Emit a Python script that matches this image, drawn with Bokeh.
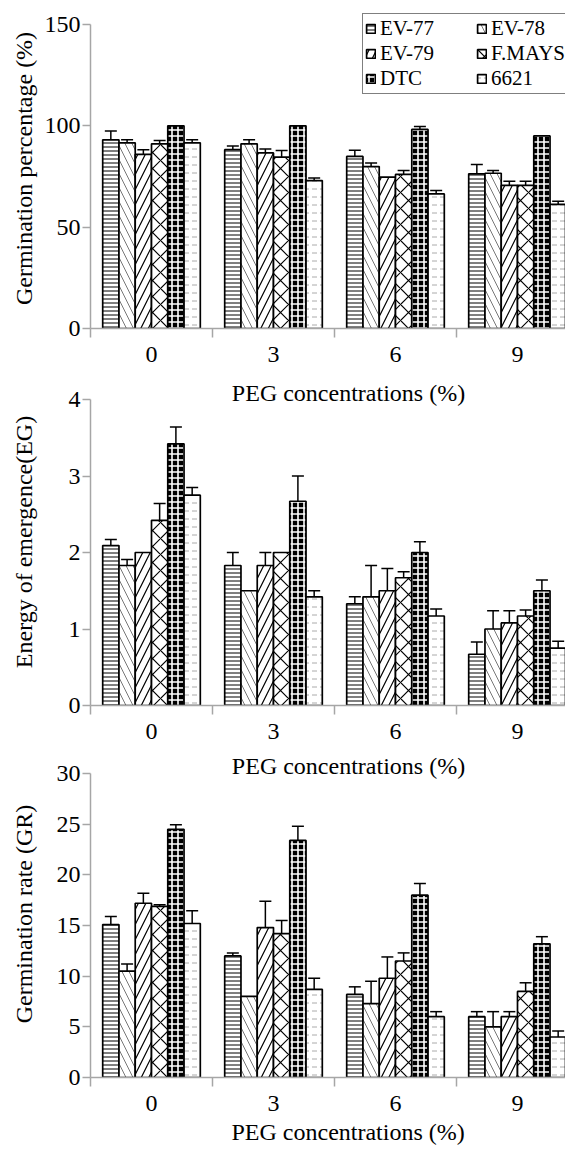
from bokeh.plotting import figure
from bokeh.layouts import column
from bokeh.models import Range1d, FixedTicker, Whisker, TeeHead, ColumnDataSource, Label, Title
from bokeh.embed import file_html
from bokeh.resources import INLINE

# ---------------- data ----------------
peg_levels = ["0", "3", "6", "9"]
cultivars = ["EV-77", "EV-78", "EV-79", "F.MAYS", "DTC", "6621"]

# Germination percentage (%)
gp_ev77 = [93.1, 88.2, 84.9, 76.3]
gp_ev78 = [91.6, 91.1, 79.9, 76.6]
gp_ev79 = [85.9, 86.6, 74.7, 70.6]
gp_fmays = [91.1, 84.5, 76.0, 70.6]
gp_dtc = [100.0, 100.0, 98.2, 95.0]
gp_6621 = [91.6, 73.0, 66.4, 61.2]
gp_ev77_err = [4.3, 1.8, 3.0, 4.6]
gp_ev78_err = [1.5, 2.0, 1.7, 1.4]
gp_ev79_err = [2.3, 1.9, 0.0, 2.0]
gp_fmays_err = [1.7, 3.3, 2.0, 2.0]
gp_dtc_err = [0.0, 0.0, 1.5, 0.0]
gp_6621_err = [1.5, 1.3, 1.7, 1.6]

# Energy of emergence (EG)
eg_ev77 = [2.09, 1.83, 1.33, 0.67]
eg_ev78 = [1.83, 1.50, 1.42, 1.00]
eg_ev79 = [2.00, 1.83, 1.50, 1.08]
eg_fmays = [2.42, 2.00, 1.67, 1.17]
eg_dtc = [3.42, 2.67, 2.00, 1.50]
eg_6621 = [2.75, 1.42, 1.17, 0.75]
eg_ev77_err = [0.08, 0.17, 0.09, 0.16]
eg_ev78_err = [0.08, 0.0, 0.41, 0.24]
eg_ev79_err = [0.0, 0.17, 0.29, 0.16]
eg_fmays_err = [0.22, 0.0, 0.08, 0.08]
eg_dtc_err = [0.22, 0.33, 0.14, 0.14]
eg_6621_err = [0.10, 0.08, 0.09, 0.09]

# Germination rate (GR)
gr_ev77 = [15.1, 12.0, 8.2, 6.0]
gr_ev78 = [10.5, 8.0, 7.3, 5.0]
gr_ev79 = [17.2, 14.8, 9.8, 6.0]
gr_fmays = [16.9, 14.2, 11.5, 8.5]
gr_dtc = [24.5, 23.4, 18.0, 13.2]
gr_6621 = [15.2, 8.7, 6.0, 4.0]
gr_ev77_err = [0.8, 0.3, 0.75, 0.5]
gr_ev78_err = [0.7, 0.0, 2.2, 1.5]
gr_ev79_err = [1.0, 2.6, 2.1, 0.5]
gr_fmays_err = [0.15, 1.3, 0.8, 0.85]
gr_dtc_err = [0.45, 1.4, 1.15, 0.7]
gr_6621_err = [1.25, 1.1, 0.5, 0.6]

gp_ticks = [0, 50, 100, 150]
eg_ticks = [0, 1, 2, 3, 4]
gr_ticks = [0, 5, 10, 15, 20, 25, 30]

x_title = "PEG concentrations (%)"

# ---------------- styles ----------------
FONT = "Liberation Serif"
AXIS_COLOR = "#a6a6a6"
W = 565
FRAME_LEFT = 90
CAT_PX = 122.0
X_END = (W - FRAME_LEFT) / CAT_PX
BAR_W = 0.8 / len(cultivars)
TITLE_X = (348 - FRAME_LEFT) / CAT_PX

styles = [
    dict(fill_color="white", hatch_pattern="horizontal_line", hatch_color="black", hatch_scale=4, hatch_weight=1),
    dict(fill_color="white", hatch_pattern="left_diagonal_line", hatch_color="#777777", hatch_scale=14, hatch_weight=1),
    dict(fill_color="white", hatch_pattern="right_diagonal_line", hatch_color="black", hatch_scale=15, hatch_weight=1.2),
    dict(fill_color="white", hatch_pattern="diagonal_cross", hatch_color="black", hatch_scale=16, hatch_weight=1.2),
    dict(fill_color="black", hatch_pattern="cross", hatch_color="white", hatch_scale=6, hatch_weight=1.6),
    dict(fill_color="white", hatch_pattern="horizontal_dash", hatch_color="#aaaaaa", hatch_scale=8, hatch_weight=1),
]


def make_panel(means, errs, y_end, y_ticks, y_label, ylab_standoff, height, top, bottom, legend=False):
    p = figure(width=W, height=height, output_backend="svg", toolbar_location=None,
               x_range=Range1d(0, X_END), y_range=Range1d(0, y_end),
               min_border_left=FRAME_LEFT, min_border_right=0,
               min_border_top=top, min_border_bottom=bottom)
    p.outline_line_color = None
    p.xgrid.visible = False
    p.ygrid.visible = False
    p.background_fill_color = "white"
    p.border_fill_color = "white"

    n = len(peg_levels)
    for j, name in enumerate(cultivars):
        xs = [i + 0.5 + (j - (len(cultivars) - 1) / 2) * BAR_W for i in range(n)]
        src = ColumnDataSource(dict(x=xs, top=means[j]))
        kw = dict(legend_label=name) if legend else {}
        p.vbar(x="x", top="top", bottom=0, width=BAR_W, source=src,
               line_color="black", line_width=1.7, **styles[j], **kw)
        ex = [xs[i] for i in range(n) if errs[j][i] > 0]
        up = [means[j][i] + errs[j][i] for i in range(n) if errs[j][i] > 0]
        lo = [means[j][i] - errs[j][i] for i in range(n) if errs[j][i] > 0]
        wsrc = ColumnDataSource(dict(base=ex, upper=up, lower=lo))
        wk = Whisker(source=wsrc, base="base", upper="upper", lower="lower",
                     line_color="black", line_width=1.5,
                     upper_head=TeeHead(size=12, line_color="black", line_width=1.5),
                     lower_head=TeeHead(size=12, line_color="black", line_width=1.5))
        p.add_layout(wk)

    xa = p.xaxis[0]
    xa.ticker = FixedTicker(ticks=[i + 0.5 for i in range(n)], minor_ticks=list(range(n + 1)))
    xa.major_label_overrides = {i + 0.5: lab for i, lab in enumerate(peg_levels)}
    xa.major_tick_in = 0
    xa.major_tick_out = 0
    xa.minor_tick_in = 0
    xa.minor_tick_out = 9
    xa.minor_tick_line_color = AXIS_COLOR
    xa.minor_tick_line_width = 1.5
    xa.axis_line_color = AXIS_COLOR
    xa.axis_line_width = 1.5
    xa.major_label_standoff = 9
    xa.major_label_text_font = FONT
    xa.major_label_text_font_size = "24px"
    xa.major_label_text_color = "black"

    ya = p.yaxis[0]
    ya.ticker = FixedTicker(ticks=y_ticks, minor_ticks=[])
    ya.bounds = (y_ticks[0], y_ticks[-1])
    ya.major_tick_in = 0
    ya.major_tick_out = 8
    ya.major_tick_line_color = AXIS_COLOR
    ya.major_tick_line_width = 1.5
    ya.axis_line_color = AXIS_COLOR
    ya.axis_line_width = 1.5
    ya.major_label_standoff = 2
    ya.major_label_text_font = FONT
    ya.major_label_text_font_size = "24px"
    ya.major_label_text_color = "black"
    ya.axis_label = y_label
    ya.axis_label_text_font = FONT
    ya.axis_label_text_font_size = "24px"
    ya.axis_label_text_font_style = "normal"
    ya.axis_label_text_color = "black"
    ya.axis_label_standoff = ylab_standoff
    return p


# panel 1: frame 8..328 (2.027 px per %)
p1 = make_panel([gp_ev77, gp_ev78, gp_ev79, gp_fmays, gp_dtc, gp_6621],
                [gp_ev77_err, gp_ev78_err, gp_ev79_err, gp_fmays_err, gp_dtc_err, gp_6621_err],
                320 / 2.027, gp_ticks, "Germination percentage (%)", 5,
                height=378, top=8, bottom=50, legend=True)
# panel 2: frame 378..705 (76.5 px per unit)
p2 = make_panel([eg_ev77, eg_ev78, eg_ev79, eg_fmays, eg_dtc, eg_6621],
                [eg_ev77_err, eg_ev78_err, eg_ev79_err, eg_fmays_err, eg_dtc_err, eg_6621_err],
                327 / 76.5, eg_ticks, "Energy of emergence(EG)", 29,
                height=372, top=0, bottom=45)
# panel 3: frame 750..1077 (10.13 px per unit)
p3 = make_panel([gr_ev77, gr_ev78, gr_ev79, gr_fmays, gr_dtc, gr_6621],
                [gr_ev77_err, gr_ev78_err, gr_ev79_err, gr_fmays_err, gr_dtc_err, gr_6621_err],
                327 / 10.13, gr_ticks, "Germination rate (GR)", 17,
                height=402, top=0, bottom=75)

# legend (panel 1)
lg = p1.legend[0]
lg.location = (272, 234)
lg.orientation = "horizontal"
lg.ncols = 2
lg.label_text_font = FONT
lg.label_text_font_size = "21px"
lg.label_text_color = "black"
lg.glyph_width = 11
lg.glyph_height = 11
lg.label_standoff = 4
lg.label_width = 96
lg.label_height = 20
lg.spacing = 0
lg.padding = 2
lg.margin = 0
lg.border_line_color = "black"
lg.border_line_width = 1.5
lg.background_fill_color = "white"
lg.background_fill_alpha = 1.0


def add_xtitle(p, y):
    p.add_layout(Label(x=TITLE_X, y=y, text=x_title, text_align="center", text_baseline="middle",
                       text_font=FONT, text_font_size="24px", text_color="black"))


# x-axis titles of the upper panels sit in the top of the next panel's frame
add_xtitle(p2, 4 + 7 / 76.5)
add_xtitle(p3, 30 + 8 / 10.13)
p3.add_layout(Title(text=x_title, align="left", offset=141, text_font=FONT, text_font_size="24px",
                    text_font_style="normal", text_color="black", standoff=7), "below")

layout = column(p1, p2, p3, spacing=0)
open("out.html", "w").write(file_html(layout, INLINE))
